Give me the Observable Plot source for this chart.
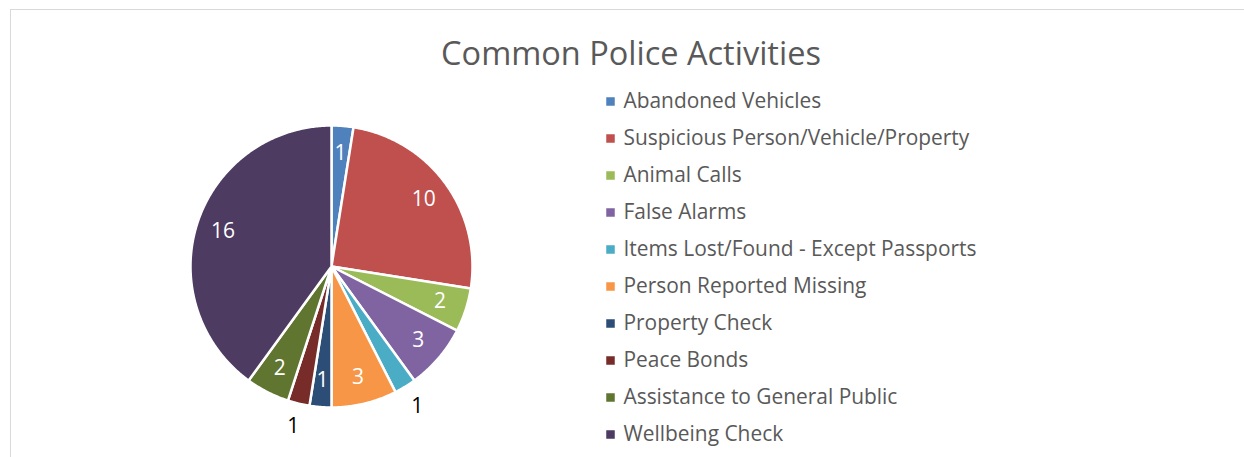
<!DOCTYPE html>
<html>
<head>
<meta charset="utf-8">
<script src="https://cdn.jsdelivr.net/npm/d3@7"></script>
<script src="https://cdn.jsdelivr.net/npm/@observablehq/plot@0.6"></script>
<style>
  html, body { margin: 0; padding: 0; background: #fff; }
  #chart { position: relative; width: 1244px; height: 457px; overflow: hidden; font-family: "Open Sans", sans-serif; }
  #frame { position: absolute; left: 10px; top: 9px; width: 1300px; height: 500px; border-left: 1px solid #d9d9d9; border-top: 1px solid #d9d9d9; }
  #title { position: absolute; left: 331px; width: 600px; top: 30px; text-align: center; font-size: 32.5px; color: #595959; white-space: nowrap; }
  #pie { position: absolute; left: 141px; top: 76px; }
  #legend { position: absolute; left: 600px; top: 76.5px; }
  svg { overflow: visible; }
</style>
</head>
<body>
<div id="chart">
  <div id="frame"></div>
  <div id="title">Common Police Activities</div>
  <div id="pie"></div>
  <div id="legend"></div>
</div>
<script>
const categories = [
  "Abandoned Vehicles",
  "Suspicious Person/Vehicle/Property",
  "Animal Calls",
  "False Alarms",
  "Items Lost/Found - Except Passports",
  "Person Reported Missing",
  "Property Check",
  "Peace Bonds",
  "Assistance to General Public",
  "Wellbeing Check"
];
const counts = [1, 10, 2, 3, 1, 3, 1, 1, 2, 16];
const colors = ["#4F81BD", "#C0504D", "#9BBB59", "#8064A2", "#4BACC6", "#F79646", "#2C4D75", "#772C2A", "#5F7530", "#4D3B62"];
const outsideLabels = ["Items Lost/Found - Except Passports", "Peace Bonds"];

// Pie geometry (derived from the data)
const R = 141;
const arcs = d3.pie().sort(null).value(d => d.value)(categories.map((name, i) => ({name, value: counts[i]})));
const polys = [];
const labels = [];
for (const a of arcs) {
  const name = a.data.name;
  polys.push({name, x: 0, y: 0});
  const n = Math.max(2, Math.ceil((a.endAngle - a.startAngle) / 0.01));
  for (let k = 0; k <= n; k++) {
    const t = a.startAngle + (a.endAngle - a.startAngle) * k / n;
    polys.push({name, x: R * Math.sin(t), y: R * Math.cos(t)});
  }
  polys.push({name, x: 0, y: 0});
  const mid = (a.startAngle + a.endAngle) / 2;
  const outside = outsideLabels.includes(name);
  const lr = outside ? 164 : 114;
  labels.push({name, value: a.data.value, x: lr * Math.sin(mid), y: lr * Math.cos(mid), outside});
}

const color = {domain: categories, range: colors};

const pie = Plot.plot({
  width: 380, height: 380,
  margin: 0,
  x: {domain: [-190, 190], axis: null},
  y: {domain: [-190, 190], axis: null},
  color,
  marks: [
    Plot.line(polys, {x: "x", y: "y", z: "name", fill: "name", stroke: "white", strokeWidth: 2.5, strokeLinejoin: "round", curve: "linear"}),
    Plot.text(labels, {x: "x", y: "y", text: d => String(d.value), fill: d => d.outside ? "#000000" : "#ffffff", fontSize: 21, fontFamily: "Open Sans"})
  ]
});
document.getElementById("pie").appendChild(pie);

const legend = Plot.plot({
  width: 460, height: 381,
  marginTop: 20, marginBottom: 20, marginLeft: 0, marginRight: 0,
  y: {type: "point", domain: categories, axis: null, padding: 0},
  color,
  marks: [
    Plot.dot(categories, {y: d => d, frameAnchor: "left", dx: 10, symbol: "square", r: 4.8, fill: d => d}),
    Plot.text(categories, {y: d => d, frameAnchor: "left", textAnchor: "start", dx: 23, text: d => d, fill: "#595959", fontSize: 20.9, fontFamily: "Open Sans"})
  ]
});
document.getElementById("legend").appendChild(legend);
</script>
</body>
</html>
